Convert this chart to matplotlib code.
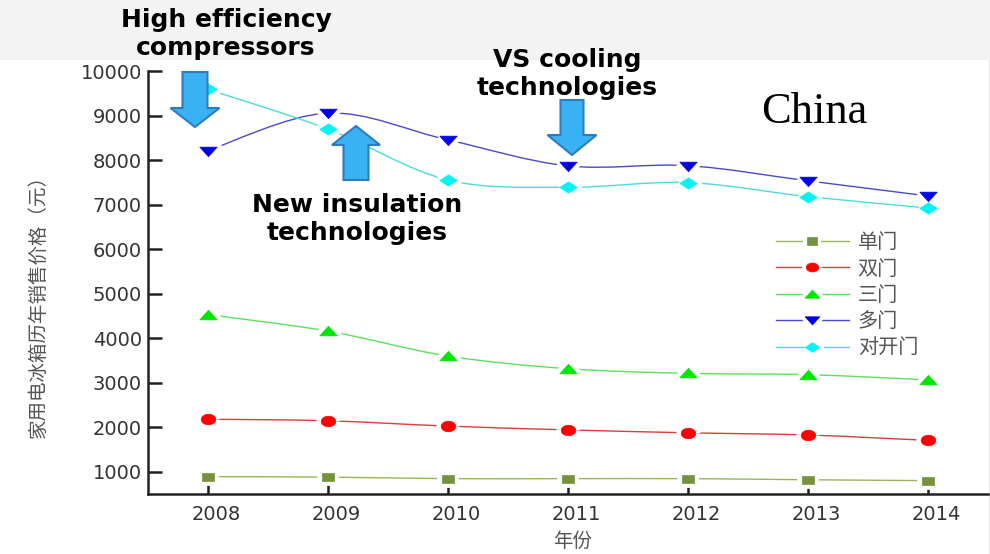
import matplotlib.pyplot as plt
import numpy as np
from matplotlib.path import Path
from matplotlib.patches import PathPatch, Polygon, Rectangle
from matplotlib.lines import Line2D
from matplotlib.transforms import ScaledTranslation

plt.rcParams['font.family'] = ['DejaVu Sans', 'Noto Sans CJK SC']

# values (yuan)
years = [2008, 2009, 2010, 2011, 2012, 2013, 2014]
single_door = [890, 880, 845, 845, 845, 820, 800]
double_door = [2180, 2145, 2025, 1940, 1875, 1825, 1705]
triple_door = [4530, 4160, 3600, 3315, 3210, 3180, 3065]
multi_door = [8210, 9055, 8455, 7870, 7875, 7535, 7195]
side_by_side = [9590, 8700, 7555, 7390, 7495, 7180, 6925]
names = ['单门', '双门', '三门', '多门', '对开门']
yticks = [1000, 2000, 3000, 4000, 5000, 6000, 7000, 8000, 9000, 10000]

W, H = 990, 554
CJK = ['Noto Sans CJK SC', 'DejaVu Sans']


def px(x, y):
    # pixel position (from top-left) -> figure fraction
    return x / W, 1 - y / H


def smooth_path(x, y):
    # Catmull-Rom curve through the points, drawn as cubic Bezier pieces
    p = np.column_stack([x, y]).astype(float)
    pp = np.vstack([p[0], p, p[-1]])
    verts = [p[0]]
    codes = [Path.MOVETO]
    for i in range(1, len(pp) - 2):
        c1 = pp[i] + (pp[i + 1] - pp[i - 1]) / 6
        c2 = pp[i + 1] - (pp[i + 2] - pp[i]) / 6
        verts += [c1, c2, pp[i + 1]]
        codes += [Path.CURVE4] * 3
    return Path(verts, codes)


t = np.linspace(0, 2 * np.pi, 40)
m_square = [(-1, -0.68), (1, -0.68), (1, 0.68), (-1, 0.68), (-1, -0.68)]
m_circle = list(zip(np.cos(t), 0.72 * np.sin(t)))
m_up = [(-1, -0.5), (1, -0.5), (0, 0.6), (-1, -0.5)]
m_down = [(-1, 0.5), (1, 0.5), (0, -0.6), (-1, 0.5)]
m_diam = [(-1, 0), (0, 0.65), (1, 0), (0, -0.65), (-1, 0)]

series = [single_door, double_door, triple_door, multi_door, side_by_side]
line_cols = ['#9bb45a', '#e03c3c', '#5ee05e', '#4a4ac8', '#4adcdc']
mark_cols = ['#76923c', '#ff0000', '#00e600', '#0000e6', '#00f5f5']
markers = [m_square, m_circle, m_up, m_down, m_diam]
msizes = [9, 10.5, 12.5, 12.5, 12.5]

fig = plt.figure(figsize=(9.9, 5.54), dpi=100)

# pale slide banner at top and faint slide edge on the right
x0, y0 = px(0, 60)
fig.patches.append(Rectangle((x0, y0), 1, 1 - y0, transform=fig.transFigure,
                             facecolor='#f3f3f3', edgecolor='none', zorder=0))
fig.add_artist(Line2D([989 / W, 989 / W], [0, y0], color='#e6e6e6', lw=1,
                      transform=fig.transFigure, zorder=0))

ax = fig.add_axes([0.149, 0.1083, 0.8485, 0.7635])
ax.set_facecolor('white')

handles = []
for ys, lc, mc, mk, ms, nm in zip(series, line_cols, mark_cols, markers, msizes, names):
    ax.add_patch(PathPatch(smooth_path(years, ys), facecolor='none', edgecolor=lc,
                           lw=1.0, zorder=2))
    ax.plot(years, ys, ls='none', marker=mk, ms=ms, mfc=mc, mec='white', mew=7, zorder=3)
    ax.plot(years, ys, ls='none', marker=mk, ms=ms, mfc=mc, mec=mc, mew=0.5, zorder=4)
    h_gap = Line2D([], [], color=lc, lw=1.0, marker=mk, ms=ms * 0.85, mfc='white',
                   mec='white', mew=6)
    h_mark = Line2D([], [], ls='none', marker=mk, ms=ms * 0.85, mfc=mc, mec=mc, mew=0.5)
    handles.append((h_gap, h_mark))

ax.set_xlim(2007.5, 2014.5)
ax.set_ylim(500, 10000)
ax.set_xticks(years)
ax.set_yticks(yticks)
for s in ['top', 'right']:
    ax.spines[s].set_visible(False)
for s in ['left', 'bottom']:
    ax.spines[s].set_linewidth(1.8)
    ax.spines[s].set_color('#222222')
ax.tick_params(axis='y', direction='in', length=10, width=1.8, color='#222222',
               labelsize=14, labelcolor='#333333', pad=4)
ax.tick_params(axis='x', direction='in', length=7, width=1.8, color='#222222',
               labelsize=14, labelcolor='#333333', pad=8)
shift = ScaledTranslation(6 / 72, 0, fig.dpi_scale_trans)
for lab in ax.get_xticklabels():
    lab.set_transform(lab.get_transform() + shift)

ax.set_ylabel('家用电冰箱历年销售价格（元）', family=CJK, fontsize=14,
              color='#555555', fontweight='light')
ax.yaxis.set_label_coords(-0.118, 0.456)
ax.set_xlabel('年份', family=CJK, fontsize=14, color='#555555', fontweight='light')
ax.xaxis.set_label_coords(0.506, -0.088)

leg = fig.legend(handles=handles, labels=names, loc='upper left',
                 bbox_to_anchor=px(766, 222), frameon=False, handlelength=3.6,
                 handletextpad=0.45, labelspacing=0.27, borderpad=0,
                 prop={'family': CJK, 'size': 14.5, 'weight': 'light'})
for tx in leg.get_texts():
    tx.set_color('#555555')

# annotations
bold = dict(fontsize=18, fontweight='bold', color='black', ha='center', va='center',
            linespacing=1.2)
fig.text(*px(226, 34), 'High efficiency\ncompressors', **bold)
fig.text(*px(357, 219), 'New insulation\ntechnologies', **bold)
fig.text(*px(567, 74), 'VS cooling\ntechnologies', **bold)
fig.text(*px(814, 112), 'China', fontsize=32, family='Liberation Serif',
         ha='center', va='center', color='black')


def block_arrow(cx, y_tail, y_head, shaft_w, head_w, head_len):
    d = 1 if y_head > y_tail else -1
    yb = y_head - d * head_len
    pts = [(cx - shaft_w / 2, y_tail), (cx + shaft_w / 2, y_tail), (cx + shaft_w / 2, yb),
           (cx + head_w / 2, yb), (cx, y_head), (cx - head_w / 2, yb),
           (cx - shaft_w / 2, yb)]
    fig.patches.append(Polygon([px(*p) for p in pts], closed=True, transform=fig.transFigure,
                               facecolor='#38b2f2', edgecolor='#2d7cbf', lw=1.5, zorder=5))


block_arrow(195, 72, 127, 25, 49, 19)
block_arrow(356, 180, 126, 25, 48, 19)
block_arrow(572, 100, 155, 23, 49, 20)

fig.savefig('out.png', dpi=100)
